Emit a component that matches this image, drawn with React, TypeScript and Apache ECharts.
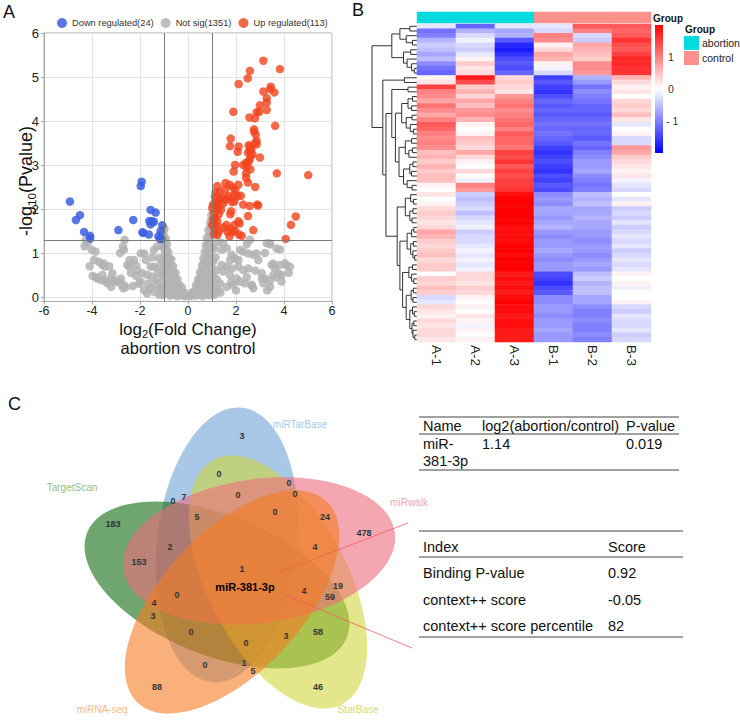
import React, { useEffect, useRef } from "react";
import * as echarts from "echarts";

const FONT = '"Liberation Sans", Arial, Helvetica, sans-serif';

/* ---------- A: volcano plot, points are [log2 fold change, -log10 P] ---------- */
const volcanoLegend = ["Down regulated(24)", "Not sig(1351)", "Up regulated(113)"];
const foldChangeCutoff = 1;
const pValueCutoff = 1.3;

const downRegulated = [
  [-4.92, 2.17], [-4.5, 1.86], [-4.67, 1.75], [-4.33, 1.48], [-4.08, 1.39], [-4.08, 1.33],
  [-2.9, 1.52], [-2.28, 1.75], [-1.93, 2.62], [-1.97, 2.52], [-1.86, 1.46], [-1.9, 1.47],
  [-1.56, 1.98], [-1.35, 1.92], [-1.61, 1.73], [-1.42, 1.71], [-1.56, 1.65], [-1.5, 1.72],
  [-1.63, 1.42], [-1.07, 1.63], [-1.14, 1.5], [-1.18, 1.33], [-1.1, 1.32], [-1.23, 1.38],
];

const upRegulated = [
  [3.14, 5.37], [3.83, 5.18], [2.58, 5.14], [2.49, 4.97], [2.11, 4.84], [3.14, 4.67], [3.45, 4.78], [3.43, 4.72], [3.6, 4.65], [3.28, 4.52],
  [3.28, 4.42], [3.0, 4.36], [1.89, 4.21], [2.97, 4.21], [3.28, 4.25], [2.86, 4.2], [2.56, 4.08], [2.79, 4.06], [3.63, 3.89], [2.75, 3.81],
  [2.76, 3.76], [2.82, 3.69], [1.78, 3.6], [2.86, 3.55], [2.8, 3.5], [2.86, 3.47], [2.53, 3.45], [2.11, 3.42], [1.75, 3.43], [2.58, 3.42],
  [2.64, 3.36], [2.07, 3.3], [2.58, 3.33], [2.5, 3.28], [2.69, 3.24], [2.61, 3.2], [3.0, 3.17], [2.56, 3.11], [2.51, 3.06], [2.42, 3.05],
  [2.3, 3.0], [1.96, 3.0], [2.44, 2.95], [2.6, 2.9], [2.42, 2.81], [2.42, 2.71], [2.5, 2.6], [3.7, 2.81], [5.01, 2.77], [1.56, 2.59],
  [1.74, 2.55], [1.88, 2.49], [1.97, 2.42], [1.93, 2.32], [2.8, 2.5], [1.22, 2.52], [1.15, 2.38], [1.32, 2.38], [1.68, 2.3], [2.06, 2.29],
  [1.43, 2.27], [1.53, 2.2], [1.7, 2.24], [1.83, 2.16], [1.93, 2.17], [1.15, 2.2], [1.04, 2.1], [1.22, 2.12], [1.46, 2.12], [1.28, 2.05],
  [1.01, 2.02], [1.22, 2.02], [1.37, 1.98], [2.88, 2.1], [2.92, 2.08], [2.57, 2.07], [1.08, 1.9], [1.28, 1.88], [1.13, 1.8], [1.76, 1.88],
  [2.5, 1.84], [1.22, 1.72], [1.01, 1.64], [2.1, 1.72], [2.15, 1.67], [1.93, 1.64], [1.6, 1.64], [1.76, 1.55], [1.48, 1.58], [1.65, 1.48],
  [1.86, 1.48], [1.96, 1.5], [2.13, 1.42], [1.73, 1.38], [1.08, 1.42], [1.23, 1.42], [4.29, 1.64], [4.49, 1.83], [4.07, 1.32], [2.24, 1.39],
  [2.72, 1.52], [1.1, 1.55], [1.18, 1.62], [1.05, 1.75], [1.3, 1.5], [1.12, 2.28], [1.35, 2.22], [2.1, 2.55], [1.9, 2.85], [2.2, 2.3],
  [1.55, 2.45], [1.8, 1.95], [2.3, 2.1],
];

// dense V of non-significant miRNAs around zero fold change
const notSigCore = [
  [-1.05, 0.05], [-0.9, 0.08], [-0.75, 0.03], [-0.6, 0.06], [-0.45, 0.02], [-0.3, 0.04], [-0.18, 0.03], [-0.08, 0.02],
  [-1.1, 0.22], [-0.95, 0.18], [-0.8, 0.2], [-0.66, 0.17], [-0.52, 0.21], [-0.38, 0.18], [-0.26, 0.12], [-0.15, 0.09],
  [-1.02, 0.36], [-0.88, 0.33], [-0.74, 0.37], [-0.6, 0.34], [-0.47, 0.31], [-0.35, 0.27], [-0.25, 0.22],
  [-1.08, 0.52], [-0.95, 0.49], [-0.82, 0.53], [-0.69, 0.5], [-0.56, 0.46], [-0.44, 0.4],
  [-1.0, 0.66], [-0.87, 0.68], [-0.75, 0.63], [-0.62, 0.58], [-0.52, 0.55],
  [-1.04, 0.82], [-0.92, 0.8], [-0.8, 0.77], [-0.7, 0.72], [-0.62, 0.7],
  [-0.98, 0.96], [-0.88, 0.93], [-0.78, 0.88], [-0.7, 0.86],
  [-1.0, 1.1], [-0.9, 1.08], [-0.82, 1.02],
  [-0.97, 1.24], [-0.88, 1.2], [-1.08, 1.18],
  [-1.0, 1.38], [-0.93, 1.33],
  [-0.98, 1.55], [-1.03, 1.47],
  [0.07, 0.02], [0.17, 0.04], [0.3, 0.03], [0.45, 0.05], [0.6, 0.02], [0.75, 0.06], [0.9, 0.04], [1.05, 0.07],
  [0.25, 0.13], [0.37, 0.19], [0.5, 0.2], [0.64, 0.18], [0.79, 0.22], [0.94, 0.19], [1.08, 0.21], [0.15, 0.09],
  [0.33, 0.27], [0.45, 0.33], [0.58, 0.36], [0.72, 0.34], [0.86, 0.37], [1.0, 0.35],
  [0.42, 0.4], [0.54, 0.47], [0.67, 0.51], [0.8, 0.49], [0.93, 0.53], [1.06, 0.5],
  [0.5, 0.56], [0.6, 0.62], [0.73, 0.67], [0.86, 0.64], [0.99, 0.66],
  [0.58, 0.72], [0.68, 0.79], [0.8, 0.82], [0.92, 0.78], [1.04, 0.81],
  [0.64, 0.88], [0.74, 0.94], [0.86, 0.97], [0.97, 0.93],
  [0.7, 1.03], [0.8, 1.1], [0.91, 1.08], [1.0, 1.12],
  [0.74, 1.18], [0.84, 1.26], [0.95, 1.23],
  [0.78, 1.34], [0.88, 1.4], [0.97, 1.42],
  [0.85, 1.52], [0.95, 1.58],
  [0.92, 1.68], [0.98, 1.76],
  [0.97, 1.86],
];

// scattered non-significant miRNAs with larger fold change
const notSigSpread = [
  [-4.26, 1.3], [-4.31, 1.15], [-4.19, 1.22], [-4.01, 1.07], [-3.85, 1.03], [-3.92, 0.84], [-3.71, 0.8], [-3.57, 0.73],
  [-3.47, 0.69], [-3.78, 0.42], [-3.57, 0.5], [-3.43, 0.37], [-3.36, 0.31], [-3.22, 0.42], [-3.15, 0.54], [-3.08, 0.35],
  [-2.97, 0.38], [-2.83, 0.31], [-2.67, 0.27], [-2.6, 0.22], [-2.64, 1.3], [-2.67, 1.07], [-2.71, 1.15], [-2.53, 0.73],
  [-2.25, 0.84], [-2.18, 0.73], [-2.11, 0.61], [-1.97, 0.35], [-1.83, 0.99], [-1.76, 0.84], [-1.56, 0.69], [-1.9, 0.54],
  [-1.69, 0.5], [-1.49, 0.46], [-1.56, 0.2], [-1.83, 0.16], [-1.42, 1.07], [-1.28, 1.15], [-1.21, 0.88], [-1.42, 0.69],
  [-3.97, 0.48], [-3.83, 0.45], [-3.5, 0.76], [-3.28, 0.7], [-2.8, 0.42], [-2.44, 0.84], [-2.44, 0.69], [-2.38, 0.55],
  [-2.17, 0.48], [-2.83, 1.0], [-1.97, 0.99], [-2.05, 0.3], [-2.3, 0.25], [-1.65, 0.3], [-1.35, 0.3], [-1.25, 0.55],
  [-1.3, 0.4], [-1.15, 0.2], [-1.2, 0.7], [-1.5, 0.9], [-1.15, 1.3], [-1.1, 1.45], [-1.2, 0.05], [-1.4, 0.12],
  [-1.7, 0.08], [-2.7, 0.2], [-3.2, 0.23], [-3.6, 0.38], [-4.1, 0.7],
  [1.26, 1.26], [1.47, 1.22], [1.4, 1.07], [1.61, 1.11], [2.58, 1.3], [3.28, 1.22], [3.42, 1.2], [3.83, 1.08],
  [2.17, 1.07], [2.3, 1.03], [2.51, 0.99], [1.82, 0.96], [1.96, 0.88], [2.1, 0.84], [1.75, 0.84], [2.72, 0.96],
  [2.86, 0.99], [2.93, 0.84], [1.4, 0.73], [1.61, 0.69], [1.82, 0.65], [2.1, 0.69], [2.51, 0.65], [2.3, 0.61],
  [1.19, 0.61], [1.47, 0.58], [1.75, 0.5], [2.03, 0.42], [2.17, 0.35], [2.37, 0.31], [2.65, 0.27], [2.72, 0.2],
  [3.49, 0.73], [3.62, 0.65], [3.83, 0.73], [4.04, 0.77], [4.25, 0.69], [3.76, 0.54], [3.56, 0.5], [3.42, 0.38],
  [3.21, 0.42], [3.07, 0.54], [3.14, 0.31], [3.42, 0.23], [1.33, 0.31], [1.61, 0.23], [1.89, 0.27], [1.26, 0.16],
  [3.69, 1.1], [3.41, 1.22], [3.55, 0.76], [4.1, 0.72], [3.69, 0.45], [3.9, 0.5], [3.08, 0.42], [2.66, 0.27],
  [1.8, 0.34], [1.15, 0.9], [1.2, 0.4], [1.1, 1.1], [1.15, 1.45], [1.1, 0.05], [1.35, 0.1], [2.0, 0.15],
  [2.45, 0.45], [2.8, 0.6], [3.3, 0.15], [3.9, 0.35], [4.2, 0.55], [3.2, 1.0], [2.45, 1.2],
];

/* ---------- B: row z-scores of the differential miRNAs ---------- */
const sampleNames = ["A-1", "A-2", "A-3", "B-1", "B-2", "B-3"];
const sampleGroups = ["abortion", "abortion", "abortion", "control", "control", "control"];
const groupNames = ["abortion", "control"];
const zRange = [-2, 2];
const colorbarTicks = [1, 0, -1];

const zA1 = [
  -0.2, -1.1, -1.0, -0.6, -0.4, -0.5, -0.7, -0.5, -0.9, -1.1, -1.2,
  0.1, 0.2,
  1.5, 1.0, 0.9, 0.7, 1.1, 0.9, 0.7, 1.0, 1.3, 1.2, 1.0, 0.9, 1.0, 0.9, 0.5, 0.6, 0.4, 0.6, 0.4, 0.5, 0.5, 0.1, 0.0,
  0.2, 0.0, 0.1, 0.3, 0.4, 0.3, 0.2, 0.3, 0.7, 0.6, 0.4, 0.3, 0.4, 0.5, 0.3, 0.4, 0.4, 0.0, 0.4, 0.3, 0.5, 0.4, -0.3, -0.2, 0.3, 0.2, 0.1, 0.3, 0.2, 0.3, 0.3, 0.2,
];
const zA2 = [
  -1.2, -0.6, -0.3, -0.1, -0.3, -0.4, -0.2, 0.1, 0.4, 0.2, 0.3,
  1.8, 1.4,
  0.4, 0.6, 0.3, 0.7, 0.5, 0.8, 0.9, 0.6, 0.1, 0.0, 0.1, 0.5, 0.4, 0.3, 0.7, 0.3, 0.1, 0.0, 0.3, 0.0, -0.1, 1.0, 0.8,
  -0.4, -0.5, -0.4, -0.3, -0.5, -0.3, -0.2, -0.1, -0.4, -0.3, -0.3, -0.2, -0.1, -0.2, -0.1, -0.2, -0.1, 0.3, 0.3, 0.2, 0.4, 0.3, 0.1, 0.0, 0.1, 0.0, 0.2, 0.1, -0.1, 0.1, 0.0, 0.1,
];
const zA3 = [
  -0.2, -0.7, -0.6, -1.3, -1.7, -1.8, -1.6, -1.4, -1.3, -1.4, -1.2,
  0.3, 0.4,
  0.3, 0.2, 0.8, 1.0, 1.1, 0.9, 1.0, 1.1, 1.2, 1.0, 1.3, 1.2, 1.2, 1.1, 1.5, 1.4, 1.6, 1.3, 1.5, 1.4, 1.5, 1.5, 1.6,
  1.9, 2.0, 2.0, 2.0, 2.0, 2.0, 2.0, 1.9, 1.9, 1.9, 1.9, 2.0, 2.0, 1.9, 2.0, 2.0, 2.0, 1.8, 1.9, 1.8, 1.9, 1.8, 1.9, 2.0, 1.9, 1.9, 1.8, 1.9, 1.9, 1.8, 1.8, 1.8,
];
const zB1 = [
  -0.2, -0.3, 1.0, 0.9, 0.1, 0.3, 0.7, 0.6, 0.1, -0.1, -0.3,
  -1.5, -1.3,
  -1.5, -1.6, -1.4, -1.2, -1.3, -1.2, -1.3, -1.2, -1.1, -1.2, -1.1, -1.2, -1.3, -1.5, -1.6, -1.5, -1.4, -1.5, -1.6, -1.4, -1.5, -1.3, -1.4,
  -0.9, -0.8, -0.9, -0.7, -0.7, -0.8, -0.7, -0.6, -0.8, -0.9, -0.8, -0.8, -0.7, -0.8, -0.9, -0.8, -0.8, -1.4, -1.5, -1.6, -1.4, -1.3, -0.9, -0.9, -0.8, -0.8, -0.9, -0.8, -0.8, -0.7, -0.8, -0.8,
];
const zB2 = [
  1.3, 1.0, -0.3, -0.4, 0.7, 0.6, 0.5, 0.4, 0.9, 0.9, 0.8,
  -0.6, -0.8,
  -1.1, -0.9, -1.0, -1.1, -1.2, -1.2, -1.3, -1.2, -1.1, -1.2, -1.2, -1.3, -1.1, -1.2, -1.0, -0.9, -0.8, -0.8, -0.7, -0.9, -1.0, -1.1, -1.0,
  -0.5, -0.6, -0.5, -0.7, -0.7, -0.6, -0.7, -0.7, -0.8, -0.8, -0.9, -0.8, -0.8, -0.9, -0.8, -0.7, -0.8, -0.5, -0.4, -0.6, -0.5, -0.5, -0.7, -0.7, -0.9, -1.0, -1.0, -0.9, -1.0, -1.0, -0.9, -1.0,
];
const zB3 = [
  1.3, 1.2, 1.3, 1.6, 1.4, 1.3, 1.5, 1.7, 1.7, 1.6, 1.6,
  0.6, 0.3,
  0.1, 0.2, 0.0, 0.3, 0.4, 0.3, 0.5, 0.2, -0.2, 0.0, 0.1, -0.3, -0.3, 0.8, 0.7, 0.4, 0.3, 0.2, 0.1, 0.2, -0.1, -0.2, -0.3,
  0.0, -0.2, 0.1, -0.4, -0.3, -0.4, -0.2, -0.4, -0.3, -0.2, -0.3, -0.2, -0.4, -0.3, -0.2, -0.3, -0.2, 0.1, 0.0, 0.1, -0.1, 0.0, 0.0, 0.1, -0.3, -0.4, -0.2, -0.3, -0.3, -0.2, -0.4, -0.3,
];

// row clustering: [merge height, left, right]; leaves are row indices
const clusterDown = [5.6, [3.8, [1.6, 0, 1], [2.4, 2, [1.0, 3, 4]]], [3.0, [1.4, 5, 6], [2.2, 7, [1.2, 8, [0.6, 9, 10]]]]];
const clusterMixed = [2.8, 11, 12];
const clusterUpA = [5.6, [2.0, 13, 14], [4.8,
  [3.4, [2.0, [1.0, 15, 16], [1.2, 17, 18]], [2.4, [1.1, 19, 20], [1.5, 21, [0.8, 22, 23]]]],
  [4.0, [2.6, [1.2, 24, 25], [1.8, [1.0, 26, 27], 28]], [3.0, [1.6, [0.9, 29, 30], [1.2, 31, 32]], [2.2, 33, [1.1, 34, 35]]]]]];
const clusterUpB = [4.4,
  [2.6, [1.4, 36, [0.8, 37, 38]], [1.6, [0.9, 39, 40], [1.1, 41, 42]]],
  [3.8,
    [2.2, [1.2, [0.7, 43, 44], 45], [1.4, [0.8, 46, 47], [0.9, 48, [0.5, 49, 50]]]],
    [3.2, [1.8, [1.0, 51, 52], [1.2, 53, [0.7, 54, 55]]],
      [2.4, [1.3, [0.8, 56, 57], [0.9, 58, 59]], [1.6, [1.0, 60, [0.6, 61, 62]], [1.1, [0.7, 63, 64], [0.9, 65, [0.5, 66, 67]]]]]]]];
const rowTree = [10, clusterDown, [7.6, clusterMixed, [6.9, clusterUpA, clusterUpB]]];
const treeMaxHeight = 10;

/* ---------- C: five-database Venn of predicted targets ---------- */
const vennSetNames = ["miRTarBase", "TargetScan", "StarBase", "miRwalk", "miRNA-seq"];
const vennRegionCounts = [3, 0, 0, 0, 0, 7, 0, 0, 5, 24, 478, 183, 2, 4, 153, 1, 0, 4, 19, 59, 4, 3, 0, 3, 58, 0, 0, 1, 5, 88, 46];
const hubMirna = "miR-381-3p";

/* ---------- tables ---------- */
const expressionHeader = ["Name", "log2(abortion/control)", "P-value"];
const expressionRow = ["miR-\n381-3p", "1.14", "0.019"];
const bindingHeader = ["Index", "Score"];
const bindingIndex = ["Binding P-value", "context++ score", "context++ score percentile"];
const bindingScore = ["0.92", "-0.05", "82"];

/* ---------- layout & styling ---------- */
const heatRamp = ["#0000FF", "#FFFFFF", "#FF0000"];
const groupColors = ["#03DBDF", "#F9928A"];
const volcanoGrid = { left: 44, top: 33, width: 288, height: 268.4 };
const heatGrid = { left: 417, top: 24, width: 234, height: 318 };
const treeGrid = { left: 372, top: 24, width: 45, height: 318 };
const annotGrid = { left: 417, top: 12, width: 234, height: 11 };
const colorbar = { x: 655, y: 25, w: 8, h: 128 };

// ellipse layout: centre, semi-axes, counter-clockwise rotation in degrees
const vennShapes = [
  { cx: 227, cy: 545, rx: 138, ry: 70, angle: 83.7, fill: "#70A3D9", label: [300, 424], labelColor: "#A6C8EA" },
  { cx: 217, cy: 585, rx: 140, ry: 70, angle: -22, fill: "#0F6B0F", label: [72, 487], labelColor: "#8CBF8C" },
  { cx: 278, cy: 582, rx: 138, ry: 70, angle: -62.4, fill: "#D0D53C", label: [358, 709], labelColor: "#D9D978" },
  { cx: 259, cy: 551, rx: 137, ry: 72, angle: 7.7, fill: "#ED6C7B", label: [409, 502], labelColor: "#F4A3AD" },
  { cx: 232, cy: 602, rx: 138, ry: 70, angle: 47, fill: "#F57B21", label: [102, 709], labelColor: "#F9B785" },
];
const vennRegionAnchors = [
  [242, 436], [219, 474], [289, 483], [295, 494], [173, 501], [184, 497], [238, 495], [275, 512], [197, 517],
  [325, 517], [364, 533], [113, 524], [170, 547], [315, 547], [139, 562], [242, 569], [177, 595], [304, 591],
  [338, 586], [330, 597], [154, 603], [153, 616], [191, 632], [286, 636], [318, 632], [246, 643], [205, 665],
  [244, 663], [253, 671], [157, 687], [318, 687],
];

let measureCtx: CanvasRenderingContext2D | null = null;
function textWidth(text: string, size: number) {
  if (!measureCtx) measureCtx = document.createElement("canvas").getContext("2d");
  if (!measureCtx) return text.length * size * 0.55;
  measureCtx.font = `${size}px ${FONT}`;
  return measureCtx.measureText(text).width;
}

function txt(x: number, y: number, text: string, extra: any = {}) {
  const align = extra.align || "left";
  const valign = extra.verticalAlign || "middle";
  return {
    type: "text",
    x,
    y,
    rotation: extra.rotation || 0,
    silent: true,
    style: {
      text,
      fill: extra.fill || "#111",
      fontSize: extra.fontSize || 13,
      fontWeight: extra.fontWeight || "normal",
      fontFamily: FONT,
      align,
      textAlign: align,
      verticalAlign: valign,
      textVerticalAlign: valign,
      lineHeight: extra.lineHeight,
    },
  };
}

// a title with a subscript, laid out piece by piece; vertical titles run bottom-to-top
function subscriptTitle(cx: number, cy: number, parts: [string, boolean][], size: number, vertical: boolean) {
  const subSize = size * 0.65;
  const widths = parts.map(([t, sub]) => textWidth(t, sub ? subSize : size));
  const total = widths.reduce((a, b) => a + b, 0);
  let run = -total / 2;
  const out: any[] = [];
  parts.forEach(([t, sub], i) => {
    const shift = sub ? size * 0.3 : 0;
    const x = vertical ? cx + shift : cx + run;
    const y = vertical ? cy - run : cy + shift;
    out.push(txt(x, y, t, { fontSize: sub ? subSize : size, rotation: vertical ? Math.PI / 2 : 0 }));
    run += widths[i];
  });
  return out;
}

function hline(x1: number, x2: number, y: number, color = "#444", w = 1) {
  return { type: "line", silent: true, shape: { x1, y1: y, x2, y2: y }, style: { stroke: color, lineWidth: w } };
}

function dendrogramSegments(tree: any) {
  const segs: any[] = [];
  const walk = (node: any): number[] => {
    if (typeof node === "number") return [0, node + 0.5];
    const [h, l, r] = node;
    const a = walk(l);
    const b = walk(r);
    segs.push({ coords: [[a[0], a[1]], [h, a[1]], [h, b[1]], [b[0], b[1]]] });
    return [h, (a[1] + b[1]) / 2];
  };
  walk(tree);
  return segs;
}

function buildGraphics() {
  const g: any[] = [];

  // panel letters
  g.push(txt(3, 12, "A", { fontSize: 18 }));
  g.push(txt(352, 10, "B", { fontSize: 18 }));
  g.push(txt(8, 404, "C", { fontSize: 18 }));

  // volcano axis titles
  g.push(...subscriptTitle(188, 329, [["log", false], ["2", true], ["(Fold Change)", false]], 17, false));
  g.push(txt(188, 348, "abortion vs control", { align: "center", fontSize: 16.5 }));
  g.push(...subscriptTitle(26, 181, [["-log", false], ["10", true], ["(Pvalue)", false]], 18, true));

  // colour key for the heatmap
  g.push({
    type: "rect",
    silent: true,
    shape: { x: colorbar.x, y: colorbar.y, width: colorbar.w, height: colorbar.h },
    style: {
      fill: new echarts.graphic.LinearGradient(0, 0, 0, 1, [
        { offset: 0, color: heatRamp[2] },
        { offset: 0.5, color: heatRamp[1] },
        { offset: 1, color: heatRamp[0] },
      ]),
    },
  });
  colorbarTicks.forEach((v) => {
    const y = colorbar.y + ((zRange[1] - v) / (zRange[1] - zRange[0])) * colorbar.h;
    g.push(txt(v < 0 ? colorbar.x + 11 : colorbar.x + 13, y, v < 0 ? "- " + Math.abs(v) : String(v), { fontSize: 10.5, fill: "#333" }));
  });
  g.push(txt(653, 18, "Group", { fontSize: 10, fontWeight: "bold" }));

  // sample group legend
  g.push(txt(685, 29, "Group", { fontSize: 10, fontWeight: "bold" }));
  groupNames.forEach((name, i) => {
    g.push({
      type: "rect",
      silent: true,
      shape: { x: 684, y: 36 + i * 15, width: 15, height: 14 },
      style: { fill: groupColors[i] },
    });
    g.push(txt(702, 43 + i * 15, name, { fontSize: 10.5, fill: "#222" }));
  });

  // Venn ellipses
  vennShapes.forEach((s) => {
    g.push({
      type: "ellipse",
      silent: true,
      x: s.cx,
      y: s.cy,
      rotation: (s.angle * Math.PI) / 180,
      shape: { cx: 0, cy: 0, rx: s.rx, ry: s.ry },
      style: { fill: s.fill, opacity: 0.6 },
    });
  });
  vennShapes.forEach((s, i) => {
    g.push(txt(s.label[0], s.label[1], vennSetNames[i], { align: "center", fontSize: 10, fill: s.labelColor }));
  });
  vennRegionCounts.forEach((c, i) => {
    const [x, y] = vennRegionAnchors[i];
    g.push(txt(x, y, String(c), { align: "center", fontSize: 9, fontWeight: "bold", fill: "#333" }));
  });
  g.push(txt(245, 587, hubMirna, { align: "center", fontSize: 11, fontWeight: "bold", fill: "#000" }));

  // pointer lines from the hub miRNA to the tables
  g.push({ type: "line", silent: true, shape: { x1: 280, y1: 572, x2: 408, y2: 523 }, style: { stroke: "#F25C5C", lineWidth: 0.8 } });
  g.push({ type: "line", silent: true, shape: { x1: 283, y1: 594, x2: 412, y2: 648 }, style: { stroke: "#F25C5C", lineWidth: 0.8 } });

  // expression table
  const t1x = [423, 482, 626];
  g.push(hline(419, 679, 417));
  g.push(hline(419, 679, 434));
  g.push(hline(419, 679, 470));
  expressionHeader.forEach((h, i) => g.push(txt(t1x[i], 426, h, { fontSize: 14.5 })));
  expressionRow.forEach((v, i) =>
    g.push(txt(t1x[i], v.includes("\n") ? 452.5 : 444, v, { fontSize: 14.5, lineHeight: 17 }))
  );

  // binding score table
  const t2x = [423, 608];
  g.push(hline(419, 683, 531));
  g.push(hline(419, 683, 557));
  g.push(hline(419, 683, 637));
  bindingHeader.forEach((h, i) => g.push(txt(t2x[i], 547, h, { fontSize: 14.5 })));
  bindingIndex.forEach((name, r) => {
    const y = 573 + r * 26.7;
    g.push(txt(t2x[0], y, name, { fontSize: 14.5 }));
    g.push(txt(t2x[1], y, bindingScore[r], { fontSize: 14.5 }));
  });
  return g;
}

function buildOption() {
  const zColumns = [zA1, zA2, zA3, zB1, zB2, zB3];
  const rowIds = zA1.map((_, i) => "r" + i);
  const heatData: number[][] = [];
  zColumns.forEach((col, c) => col.forEach((v, r) => heatData.push([c, r, v])));
  const annotData = sampleGroups.map((g, i) => [i, 0, groupNames.indexOf(g)]);

  const hiddenCat = (gridIndex: number, data: string[], inverse = false) => ({
    type: "category",
    gridIndex,
    data,
    inverse,
    show: false,
  });

  return {
    animation: false,
    textStyle: { fontFamily: FONT },
    legend: {
      data: volcanoLegend,
      left: 52,
      top: 13,
      itemWidth: 10,
      itemHeight: 10,
      itemGap: 7,
      icon: "circle",
      selectedMode: false,
      textStyle: { fontSize: 9.3, color: "#333", fontFamily: FONT },
    },
    grid: [
      { ...volcanoGrid, show: true, borderColor: "#aaa", borderWidth: 1 },
      { ...treeGrid },
      { ...heatGrid },
      { ...annotGrid },
    ],
    xAxis: [
      {
        type: "value",
        gridIndex: 0,
        min: -6,
        max: 6,
        interval: 2,
        axisLine: { show: true, onZero: false, lineStyle: { color: "#aaa" } },
        axisTick: { show: true, length: 3, lineStyle: { color: "#aaa" } },
        axisLabel: { fontSize: 12.5, color: "#222", margin: 3, fontFamily: FONT },
        splitLine: { show: true, lineStyle: { color: "#e2e2e2" } },
      },
      { type: "value", gridIndex: 1, min: 0, max: treeMaxHeight, inverse: true, show: false },
      {
        type: "category",
        gridIndex: 2,
        data: sampleNames,
        axisLine: { show: false },
        axisTick: { show: false },
        splitLine: { show: false },
        axisLabel: { rotate: -90, fontSize: 13.5, color: "#222", margin: 3, fontFamily: FONT },
      },
      hiddenCat(3, sampleNames),
    ],
    yAxis: [
      {
        type: "value",
        gridIndex: 0,
        min: -0.1,
        max: 6,
        axisLine: { show: true, onZero: false, lineStyle: { color: "#aaa" } },
        axisTick: { show: true, length: 3, lineStyle: { color: "#aaa" } },
        axisLabel: {
          fontSize: 13,
          color: "#222",
          margin: 5,
          fontFamily: FONT,
          formatter: (v: number) => (Math.abs(v - Math.round(v)) < 1e-9 ? String(Math.round(v)) : ""),
        },
        splitLine: { show: true, lineStyle: { color: "#e2e2e2" } },
      },
      { type: "value", gridIndex: 1, min: 0, max: zA1.length, inverse: true, show: false },
      hiddenCat(2, rowIds, true),
      hiddenCat(3, ["Group"]),
    ],
    visualMap: [
      {
        type: "continuous",
        min: zRange[0],
        max: zRange[1],
        seriesIndex: 4,
        show: false,
        inRange: { color: heatRamp },
      },
      {
        type: "piecewise",
        seriesIndex: 5,
        show: false,
        pieces: groupNames.map((_, i) => ({ value: i, color: groupColors[i] })),
      },
    ],
    series: [
      {
        name: volcanoLegend[1],
        type: "scatter",
        xAxisIndex: 0,
        yAxisIndex: 0,
        data: [...notSigCore, ...notSigSpread],
        symbolSize: 8.5,
        silent: true,
        itemStyle: { color: "#B3B3B3", opacity: 0.85 },
        markLine: {
          silent: true,
          symbol: ["none", "none"],
          label: { show: false },
          lineStyle: { color: "#7a7a7a", type: "solid", width: 1 },
          data: [{ xAxis: -foldChangeCutoff }, { xAxis: foldChangeCutoff }, { yAxis: pValueCutoff }],
        },
      },
      {
        name: volcanoLegend[0],
        type: "scatter",
        xAxisIndex: 0,
        yAxisIndex: 0,
        data: downRegulated,
        symbolSize: 8.5,
        silent: true,
        itemStyle: { color: "#3B5FE0", opacity: 0.85 },
      },
      {
        name: volcanoLegend[2],
        type: "scatter",
        xAxisIndex: 0,
        yAxisIndex: 0,
        data: upRegulated,
        symbolSize: 8.5,
        silent: true,
        itemStyle: { color: "#F2441E", opacity: 0.8 },
      },
      {
        type: "lines",
        coordinateSystem: "cartesian2d",
        xAxisIndex: 1,
        yAxisIndex: 1,
        polyline: true,
        silent: true,
        data: dendrogramSegments(rowTree),
        lineStyle: { color: "#333", width: 1, opacity: 1 },
      },
      {
        type: "heatmap",
        xAxisIndex: 2,
        yAxisIndex: 2,
        data: heatData,
        silent: true,
        itemStyle: { borderWidth: 0 },
      },
      {
        type: "heatmap",
        xAxisIndex: 3,
        yAxisIndex: 3,
        data: annotData,
        silent: true,
        itemStyle: { borderWidth: 0 },
      },
    ],
    graphic: buildGraphics(),
  };
}

export default function App() {
  const ref = useRef<HTMLDivElement>(null);
  useEffect(() => {
    if (!ref.current) return;
    const chart = echarts.init(ref.current, null, { renderer: "svg" });
    chart.setOption(buildOption() as any);
    return () => chart.dispose();
  }, []);
  return (
    <div
      ref={ref}
      style={{ position: "absolute", left: 0, top: 0, width: 740, height: 721, background: "#fff" }}
    />
  );
}
